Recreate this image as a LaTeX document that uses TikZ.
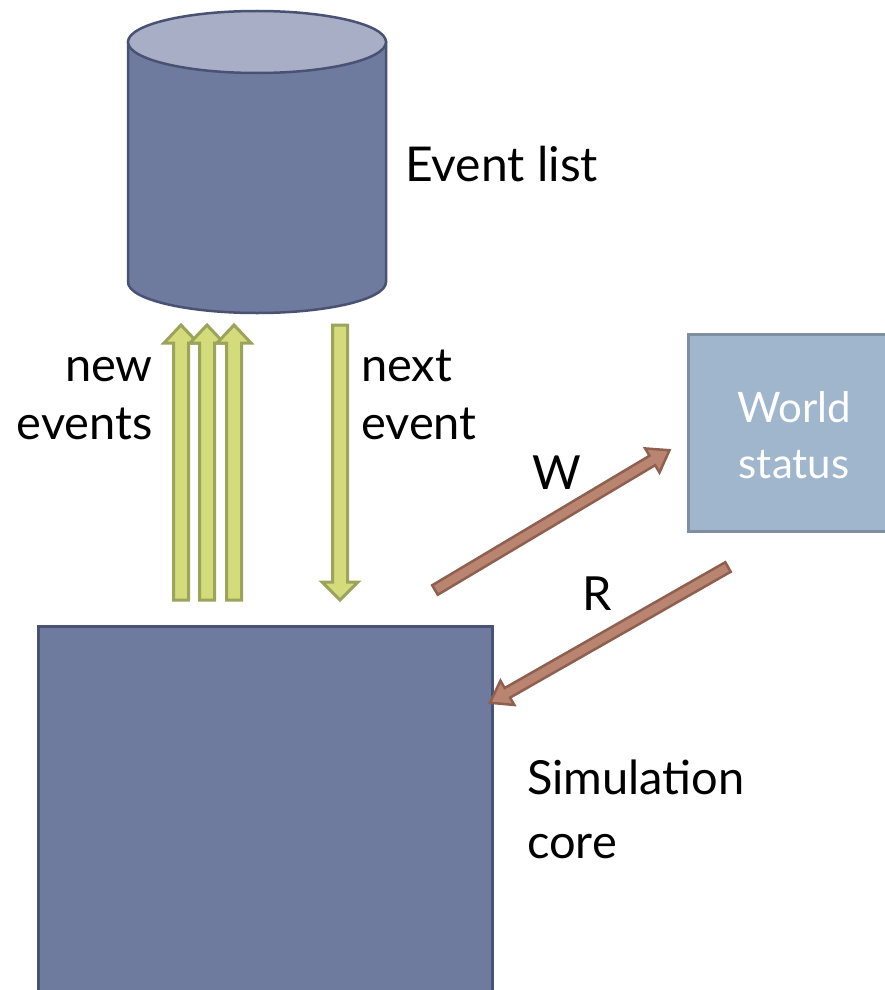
\documentclass[tikz,border=0pt]{standalone}
\usepackage{fontspec}
\setmainfont{Lato}
\definecolor{dbody}{RGB}{111,122,159}
\definecolor{dtop}{RGB}{168,174,198}
\definecolor{dline}{RGB}{74,82,115}
\definecolor{gfill}{RGB}{212,219,122}
\definecolor{gline}{RGB}{156,163,90}
\definecolor{rfill}{RGB}{185,133,112}
\definecolor{rline}{RGB}{143,95,80}
\definecolor{wfill}{RGB}{160,182,204}
\definecolor{wline}{RGB}{125,143,161}
\newcommand{\blockarrow}[7]{%
  % #1 start, #2 angle, #3 length, #4 half shaft, #5 half head, #6 head length, #7 style
  \begin{scope}[shift={#1}, rotate=#2]
    \filldraw[#7] (0,-#4) -- ({#3-#6},-#4) -- ({#3-#6},-#5) -- (#3,0) -- ({#3-#6},#5) -- ({#3-#6},#4) -- (0,#4) -- cycle;
  \end{scope}}
\tikzset{
  lbl/.style={font=\fontsize{47}{59}\selectfont, inner sep=0pt},
  garrow/.style={fill=gfill, draw=gline, line width=3pt, line join=miter},
  rarrow/.style={fill=rfill, draw=rline, line width=2.5pt, line join=miter},
  dbase/.style={fill=dbody, draw=dline, line width=2.5pt},
}
\begin{document}
\begin{tikzpicture}[x=1pt,y=-1pt]
\useasboundingbox (0,0) rectangle (884,990);
% cylinder
\filldraw[dbase] (128,42) -- (128,282) arc[start angle=180, end angle=0, x radius=129, y radius=31] -- (386,42) -- cycle;
\filldraw[dbase, fill=dtop] (257,42) ellipse[x radius=129, y radius=31];
\coordinate (cyl) at (257,160);
\node[lbl, font=\fontsize{48}{59}\selectfont, anchor=base west] (evl) at (405,181) {Event list};
% simulation core
\node[dbase, draw, minimum width=454pt, minimum height=400pt, anchor=north west, inner sep=0pt] (core) at (37,625) {};
\node[lbl, font=\fontsize{47}{64}\selectfont, anchor=base west, align=left] (coretxt) at (527,858) {Simulation\\core};
% world status
\node[fill=wfill, draw=wline, line width=2.5pt, minimum width=210pt, minimum height=197pt, anchor=north west, inner sep=0pt] (world) at (687,333) {};
\node[lbl, font=\fontsize{42}{56}\selectfont, text=white, align=center, anchor=base] (worldtxt) at (794,478) {World\\status};
% green arrows
\blockarrow{(181,600)}{90}{275}{7.5}{17}{18}{garrow}
\blockarrow{(207,600)}{90}{275}{7.5}{17}{18}{garrow}
\blockarrow{(234,600)}{90}{275}{7.5}{17}{18}{garrow}
\blockarrow{(340,325)}{-90}{275}{7.5}{18}{18}{garrow}
\node[lbl, font=\fontsize{47}{58}\selectfont, anchor=base east, align=right] (newev) at (153,439) {new\\events};
\node[lbl, font=\fontsize{47}{58}\selectfont, anchor=base west, align=left] (nextev) at (361,439) {next\\event};
% W / R arrows
\blockarrow{(435,590)}{30.8}{273}{5.5}{14}{20}{rarrow}
\blockarrow{(728,567)}{209.7}{274}{5.5}{14}{20}{rarrow}
\node[lbl, anchor=base] (wl) at (557,489) {W};
\node[lbl, anchor=base] (rl) at (597,610) {R};
\end{tikzpicture}
\end{document}
